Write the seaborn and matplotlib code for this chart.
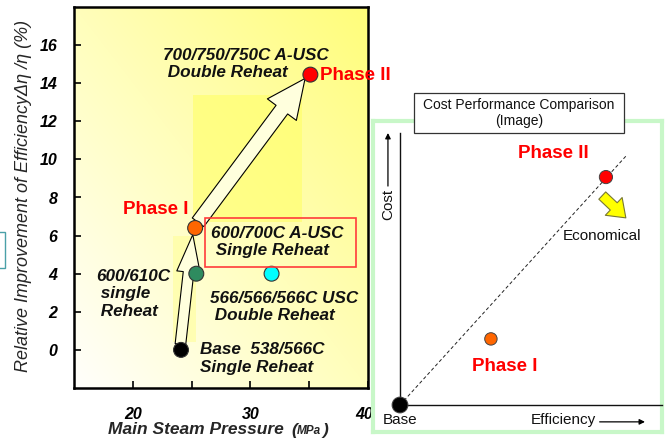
import numpy as np
import pandas as pd
import matplotlib
matplotlib.use("Agg")
import matplotlib.pyplot as plt
import matplotlib.transforms as mtransforms
import seaborn as sns
from matplotlib.patches import Rectangle

# ---------------- data ----------------
designs = ["Base 538/566C", "600/610C", "566/566/566C USC", "600/700C A-USC", "700/750/750C A-USC"]
pressure = [24.1, 25.4, 31.8, 25.3, 35.1]           # MPa
efficiency_gain = [0.0, 4.0, 4.0, 6.4, 14.45]       # relative improvement %
point_colors = ["#000000", "#2e8b5f", "#00ffff", "#ff6600", "#ff0000"]

x_ticks = [20, 30, 40]
x_minor = [25, 35]
y_ticks = [0, 2, 4, 6, 8, 10, 12, 14, 16]

cost_labels = ["Base", "Phase I", "Phase II"]
cost_efficiency = [0.0, 0.347, 0.786]
cost_value = [0.0, 0.243, 0.838]
cost_colors = ["#000000", "#ff6600", "#ff0000"]
cost_sizes = [130, 80, 90]

# ---------------- style ----------------
sns.set_style("ticks")
plt.rcParams['font.family'] = ['Liberation Sans', 'DejaVu Sans']

W, H = 667, 442
fig = plt.figure(figsize=(W / 100, H / 100), dpi=100)
fig.patch.set_facecolor("white")

def fx(px):
    return px / W

def fy(py):
    return (H - py) / H

# ---------------- left chart ----------------
ax = fig.add_axes([fx(74), fy(388), fx(368) - fx(74), fy(7) - fy(388)])

# gradient background (white lower-left to yellow upper-right)
n = 200
u, v = np.meshgrid(np.linspace(0, 1, n), np.linspace(0, 1, n))
t = (u + v) / 2
img = np.ones((n, n, 3))
img[..., 2] = (252 - 130 * t) / 255
img[..., 1] = (255 - 2 * t) / 255
ax.imshow(img, extent=[0, 1, 0, 1], transform=ax.transAxes, origin="lower",
          aspect="auto", zorder=0, interpolation="bilinear")
ax.set_xlim(15, 40)
ax.set_ylim(-2, 18)

# highlight bands
ax.add_patch(Rectangle((25.1, 6.7), 9.25, 6.7, fc="#ffff66", ec="none", alpha=0.6, zorder=1))
ax.add_patch(Rectangle((23.4, 0.4), 2.0, 5.6, fc="#ffff99", ec="none", alpha=0.6, zorder=1))

df = pd.DataFrame({"design": designs, "pressure": pressure, "gain": efficiency_gain})
sns.scatterplot(data=df, x="pressure", y="gain", hue="design",
                palette=dict(zip(designs, point_colors)), s=115,
                edgecolor="#333333", linewidth=0.8, legend=False, ax=ax, zorder=5)

# block arrows
ax.annotate("", xy=(pressure[4] - 0.45, efficiency_gain[4] - 0.2),
            xytext=(pressure[3] + 0.25, efficiency_gain[3] + 0.3),
            arrowprops=dict(arrowstyle="simple,head_length=1.4,head_width=1.3,tail_width=0.52",
                            mutation_scale=20, fc="#ffffdd", ec="black", lw=0.8,
                            shrinkA=0, shrinkB=0), zorder=4)
ax.annotate("", xy=(pressure[3] - 0.2, efficiency_gain[3] - 0.35),
            xytext=(pressure[0] - 0.05, efficiency_gain[0] + 0.3),
            arrowprops=dict(arrowstyle="simple,head_length=1.6,head_width=1.0,tail_width=0.45",
                            mutation_scale=17, fc="#ffffdd", ec="black", lw=0.8,
                            shrinkA=0, shrinkB=0), zorder=4)

lab = dict(fontsize=12.3, fontweight="bold", style="italic", color="#111111",
           ha="left", va="center", zorder=6)
ax.text(22.55, 15.0, "700/750/750C A-USC\n Double Reheat", **lab)
ax.text(26.65, 5.67, "600/700C A-USC\n Single Reheat", **lab)
ax.text(16.9, 2.95, "600/610C\n single\n Reheat", **lab)
ax.text(26.6, 2.26, "566/566/566C USC\n Double Reheat", **lab)
ax.text(25.74, -0.45, "Base  538/566C\nSingle Reheat", **lab)

ax.add_patch(Rectangle((26.14, 4.37), 12.84, 2.54, fill=False, ec="#ff3b3b", lw=1.2, zorder=6))

red = dict(fontsize=13.5, fontweight="bold", color="#ff0000", va="center", zorder=6)
ax.text(21.95, 7.35, "Phase I", ha="center", **red)
ax.text(35.95, 14.4, "Phase II", ha="left", clip_on=False, **red)

ax.set_xticks(x_ticks)
ax.set_xticks(x_minor, minor=True)
ax.set_yticks(y_ticks)
ax.tick_params(axis="both", which="both", direction="in", length=5, width=1.2, colors="black")
ax.tick_params(axis="x", pad=14)
ax.tick_params(axis="y", pad=12)
for lbl in ax.get_xticklabels() + ax.get_yticklabels():
    lbl.set_fontsize(11.5)
    lbl.set_fontweight("bold")
    lbl.set_style("italic")
# last x label sits slightly left of its tick
last = ax.get_xticklabels()[-1]
last.set_transform(last.get_transform() +
                   mtransforms.ScaledTranslation(-4 / 100, 0, fig.dpi_scale_trans))
for s in ax.spines.values():
    s.set_linewidth(1.8)
    s.set_color("black")
ax.set_xlabel("")
ax.set_ylabel("")

ax.text(-0.173, 0.505, "Relative Improvement of Efficiency\u0394\u03b7 /\u03b7 (%)", rotation=90,
        transform=ax.transAxes, ha="center", va="center", fontsize=13, style="italic")
ax.text(fx(108), fy(430), "Main Steam Pressure", transform=fig.transFigure,
        ha="left", va="center", fontsize=12.5, fontweight="bold", style="italic")
ax.text(fx(291), fy(430), "(", transform=fig.transFigure,
        ha="left", va="center", fontsize=12.5, fontweight="bold", style="italic")
ax.text(fx(297), fy(431), "MPa", transform=fig.transFigure,
        ha="left", va="center", fontsize=8.5, fontweight="bold", style="italic")
ax.text(fx(323), fy(430), ")", transform=fig.transFigure,
        ha="left", va="center", fontsize=12.5, fontweight="bold", style="italic")

# partial box at the far left edge
fig.patches.append(Rectangle((fx(-10), fy(268)), fx(15), fy(232) - fy(268), fill=False,
                             ec="#4aa0a8", lw=1.0, transform=fig.transFigure, zorder=2))

# ---------------- right inset ----------------
bg = fig.add_axes([fx(373), fy(432), fx(662) - fx(373), fy(121) - fy(432)], zorder=3)
bg.set_facecolor("white")
bg.set_xticks([])
bg.set_yticks([])
for s in bg.spines.values():
    s.set_color("#c8f7c8")
    s.set_linewidth(3)

ix = fig.add_axes([fx(400), fy(405), fx(662) - fx(400), fy(133) - fy(405)], zorder=4)
ix.set_facecolor("none")
ix.set_xlim(0, 1)
ix.set_ylim(0, 1)
ix.set_xticks([])
ix.set_yticks([])
for k in ["top", "right"]:
    ix.spines[k].set_visible(False)
for k in ["left", "bottom"]:
    ix.spines[k].set_color("#111111")
    ix.spines[k].set_linewidth(1.0)

ix.plot([0, 0.866], [0, 0.919], ls=(0, (3.5, 2.5)), lw=0.7, color="#222222", zorder=2)
cdf = pd.DataFrame({"label": cost_labels, "eff": cost_efficiency, "cost": cost_value})
sns.scatterplot(data=cdf, x="eff", y="cost", hue="label", size="label",
                sizes=dict(zip(cost_labels, cost_sizes)),
                palette=dict(zip(cost_labels, cost_colors)), edgecolor="#444444",
                linewidth=0.7, legend=False, ax=ix, zorder=5, clip_on=False)
ix.set_xlabel("")
ix.set_ylabel("")

ix.text(0.584, 0.923, "Phase II", ha="center", va="center", fontsize=13.5,
        fontweight="bold", color="#ff0000")
ix.text(0.40, 0.143, "Phase I", ha="center", va="center", fontsize=13.5,
        fontweight="bold", color="#ff0000")
ix.text(0.622, 0.621, "Economical", ha="left", va="center", fontsize=11, color="#111111")
ix.annotate("", xy=(0.862, 0.688), xytext=(0.772, 0.77),
            arrowprops=dict(arrowstyle="simple,head_length=0.75,head_width=1.1,tail_width=0.45",
                            mutation_scale=16, fc="#ffff00", ec="#777733", lw=0.8,
                            shrinkA=0, shrinkB=0))
ix.text(-0.065, -0.056, "Base", ha="left", va="center", fontsize=11, color="#111111",
        clip_on=False)
ix.text(0.50, -0.056, "Efficiency", ha="left", va="center", fontsize=11, color="#111111",
        clip_on=False)
ix.annotate("", xy=(0.935, -0.062), xytext=(0.762, -0.062),
            arrowprops=dict(arrowstyle="-|>", lw=0.9, color="black", mutation_scale=8,
                            shrinkA=0, shrinkB=0), annotation_clip=False)
ix.text(-0.046, 0.739, "Cost", rotation=90, ha="center", va="center", fontsize=11,
        color="#111111", clip_on=False)
ix.annotate("", xy=(-0.046, 1.0), xytext=(-0.046, 0.805),
            arrowprops=dict(arrowstyle="-|>", lw=0.9, color="black", mutation_scale=8,
                            shrinkA=0, shrinkB=0), annotation_clip=False)

# title box of inset
fig.patches.append(Rectangle((fx(414), fy(133)), fx(624) - fx(414), fy(93) - fy(133),
                             fc="white", ec="#333333", lw=0.9, transform=fig.transFigure,
                             zorder=10))
fig.text(fx(519), fy(113), "Cost Performance Comparison\n(Image)", ha="center", va="center",
         fontsize=10, color="#111111", linespacing=1.15, zorder=11)

fig.savefig("out.png", dpi=100)
